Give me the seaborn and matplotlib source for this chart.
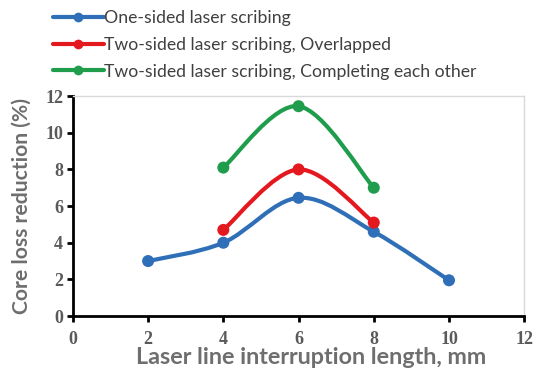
import numpy as np
import pandas as pd
import matplotlib
matplotlib.use("Agg")
import matplotlib.pyplot as plt
import seaborn as sns
from matplotlib.path import Path
from matplotlib.patches import PathPatch
from matplotlib.lines import Line2D

# ---- data ----
series_names = [
    "One-sided laser scribing",
    "Two-sided laser scribing, Overlapped",
    "Two-sided laser scribing, Completing each other",
]
x_one = [2, 4, 6, 8, 10]
y_one = [3.0, 4.0, 6.45, 4.6, 1.95]
x_over = [4, 6, 8]
y_over = [4.7, 8.0, 5.1]
x_comp = [4, 6, 8]
y_comp = [8.1, 11.45, 7.0]
x_ticks = [0, 2, 4, 6, 8, 10, 12]
y_ticks = [0, 2, 4, 6, 8, 10, 12]

colors = ["#2E6FB7", "#E3191F", "#1F9D4C"]

sns.set_theme(style="white")
plt.rcParams["font.family"] = ["DejaVu Sans"]

fig = plt.figure(figsize=(5.36, 3.74), dpi=100)
ax = fig.add_axes([0.136, 0.155, 0.842, 0.588])

frames = []
for name, xs, ys in zip(series_names, [x_one, x_over, x_comp], [y_one, y_over, y_comp]):
    frames.append(pd.DataFrame({"x": xs, "y": ys, "series": name}))
df = pd.concat(frames, ignore_index=True)


def smooth_path(xs, ys):
    pts = np.column_stack([xs, ys]).astype(float)
    n = len(pts)
    verts = [pts[0]]
    codes = [Path.MOVETO]
    for i in range(n - 1):
        p0 = pts[i - 1] if i > 0 else pts[i]
        p1 = pts[i]
        p2 = pts[i + 1]
        p3 = pts[i + 2] if i + 2 < n else pts[i + 1]
        c1 = p1 + (p2 - p0) / 6.0
        c2 = p2 - (p3 - p1) / 6.0
        verts += [c1, c2, p2]
        codes += [Path.CURVE4] * 3
    return Path(verts, codes)


for name, col in zip(series_names, colors):
    sub = df[df["series"] == name]
    patch = PathPatch(smooth_path(sub["x"].values, sub["y"].values), facecolor="none",
                      edgecolor=col, lw=3.0, transform=ax.transData, zorder=2,
                      capstyle="round", joinstyle="round")
    ax.add_patch(patch)

sns.scatterplot(data=df, x="x", y="y", hue="series", palette=colors,
                hue_order=series_names, s=75, edgecolor="none", ax=ax,
                legend=False, zorder=3)

ax.set_xlim(0, 12)
ax.set_ylim(0, 12)
ax.set_xticks(x_ticks)
ax.set_yticks(y_ticks)

tick_font = dict(family="Liberation Serif", weight="bold", size=13)
ax.set_xticklabels([str(v) for v in x_ticks], fontdict=tick_font, color="#5a5a5a")
ax.set_yticklabels([str(v) for v in y_ticks], fontdict=tick_font, color="#5a5a5a")

ax.tick_params(axis="both", direction="out", length=4, width=2, color="black",
               bottom=True, left=True, pad=3)
ax.tick_params(axis="x", pad=7)

for s in ["left", "bottom"]:
    ax.spines[s].set_color("black")
    ax.spines[s].set_linewidth(2.0)
for s in ["top", "right"]:
    ax.spines[s].set_color("#d9d9d9")
    ax.spines[s].set_linewidth(1.0)

ax.set_xlabel("Laser line interruption length, mm", family="Lato", weight="bold",
              size=16.8, color="#6e6e6e")
ax.xaxis.set_label_coords(0.528, -0.142)
ax.set_ylabel("Core loss reduction (%)", family="Lato", weight="bold",
              size=15.2, color="#6e6e6e", labelpad=10)

handles = [Line2D([0], [0], color=c, lw=3.0, marker="o", markersize=7,
                  markeredgewidth=0) for c in colors]
fig.legend(handles, series_names, loc="upper left", bbox_to_anchor=(0.073, 1.01),
           frameon=False, prop=dict(family="Lato", size=12.7), labelcolor="#404040",
           handlelength=2.85, handletextpad=0.0, labelspacing=0.6, borderpad=0.3)

fig.savefig("out.png", dpi=100)
